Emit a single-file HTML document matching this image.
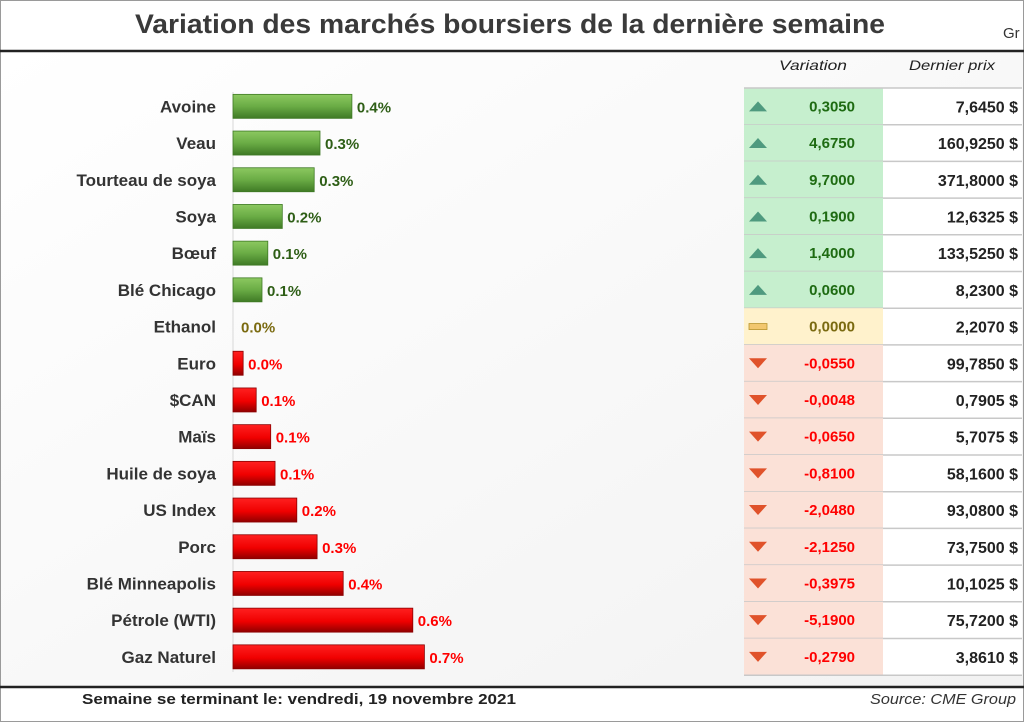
<!DOCTYPE html>
<html><head><meta charset="utf-8"><style>
html,body{margin:0;padding:0;background:#fff}
svg{display:block;font-family:"Liberation Sans",sans-serif}
</style></head><body>
<svg id="c" width="1024" height="722" viewBox="0 0 1024 722">
<defs>
<linearGradient id="gG" x1="0" y1="0" x2="0" y2="1"><stop offset="0" stop-color="#8cc860"/><stop offset="0.5" stop-color="#6aac45"/><stop offset="1" stop-color="#3f7a25"/></linearGradient>
<linearGradient id="gR" x1="0" y1="0" x2="0" y2="1"><stop offset="0" stop-color="#ff2020"/><stop offset="0.55" stop-color="#f00000"/><stop offset="1" stop-color="#900000"/></linearGradient>
<linearGradient id="bg" x1="0" y1="0" x2="1" y2="1"><stop offset="0" stop-color="#ffffff"/><stop offset="1" stop-color="#f2f2f2"/></linearGradient>
</defs>
<rect x="0" y="0" width="1024" height="722" fill="#fff"/>
<rect x="1" y="52" width="1022" height="634" fill="url(#bg)"/>
<rect x="0.5" y="0.5" width="1023" height="721" fill="none" stroke="#9a9a9a"/>
<text x="510" y="33" text-anchor="middle" font-size="27" font-weight="bold" fill="#3a3a3a" textLength="750" lengthAdjust="spacingAndGlyphs">Variation des marchés boursiers de la dernière semaine</text>
<text x="1003" y="38" font-size="15" fill="#333">Gr</text>
<line x1="0" y1="51" x2="1024" y2="51" stroke="#222" stroke-width="2.5"/>
<line x1="0" y1="687" x2="1024" y2="687" stroke="#222" stroke-width="2.5"/>
<text x="82" y="704" font-size="14.5" font-weight="bold" fill="#222" textLength="434" lengthAdjust="spacingAndGlyphs">Semaine se terminant le:  vendredi, 19 novembre 2021</text>
<text x="1016" y="704" text-anchor="end" font-size="14.5" font-style="italic" fill="#333" textLength="146" lengthAdjust="spacingAndGlyphs">Source: CME Group</text>
<text x="813" y="70" text-anchor="middle" font-size="14" font-style="italic" fill="#222" textLength="68" lengthAdjust="spacingAndGlyphs">Variation</text>
<text x="952" y="70" text-anchor="middle" font-size="14" font-style="italic" fill="#222" textLength="86" lengthAdjust="spacingAndGlyphs">Dernier prix</text>
<g id="bars"></g>
<g id="table"></g>
</svg>
<script>
const categories=["Avoine","Veau","Tourteau de soya","Soya","Bœuf","Blé Chicago","Ethanol","Euro","$CAN","Maïs","Huile de soya","US Index","Porc","Blé Minneapolis","Pétrole (WTI)","Gaz Naturel"];
const pctValues=[0.41,0.30,0.28,0.17,0.12,0.10,0.0,-0.035,-0.08,-0.13,-0.145,-0.22,-0.29,-0.38,-0.62,-0.66];
const variations=["0,3050","4,6750","9,7000","0,1900","1,4000","0,0600","0,0000","-0,0550","-0,0048","-0,0650","-0,8100","-2,0480","-2,1250","-0,3975","-5,1900","-0,2790"];
const prices=["7,6450 $","160,9250 $","371,8000 $","12,6325 $","133,5250 $","8,2300 $","2,2070 $","99,7850 $","0,7905 $","5,7075 $","58,1600 $","93,0800 $","73,7500 $","10,1025 $","75,7200 $","3,8610 $"];
const NS="http://www.w3.org/2000/svg";
const x0=233, pxPerPct=290, rowTop=88, rowH=36.7;
function xs(v){return Math.abs(v)*pxPerPct;}
function yc(i){return rowTop+rowH*(i+0.5);}
function mk(tag,attrs,parent){const e=document.createElementNS(NS,tag);for(const k in attrs)e.setAttribute(k,attrs[k]);parent.appendChild(e);return e;}
const bars=document.getElementById('bars'), table=document.getElementById('table');
const ax=mk('line',{x1:x0,y1:92,x2:x0,y2:672,stroke:'#d8d8d8','stroke-width':1},bars);


const pr=mk('rect',{x:883,y:rowTop,width:139,height:rowH*16,fill:'#fff'},table);


categories.forEach((c,i)=>{
  const y=yc(i), v=pctValues[i], w=xs(v);
  const lab=mk('text',{x:216,y:y+6,'text-anchor':'end','font-size':17,'font-weight':'bold',fill:'#333'},bars);
  lab.textContent=c;
  
  
  let col='#7a6a10';
  if(w>0.5){
    const pos=v>0;
    const r=mk('rect',{x:x0,y:y-12,width:w,height:24,fill:pos?'url(#gG)':'url(#gR)',stroke:pos?'#3f7a25':'#8a0000','stroke-width':0.8},bars);
    
    
    col=pos?'#2e5e16':'#ff0000';
  }
  const t=mk('text',{x:x0+Math.max(w,0)+(w>0.5?5:8),y:y+6,'font-size':15,'font-weight':'bold',fill:col},bars);
  t.textContent=Math.abs(v).toFixed(1)+'%';
  
  
  const sign=v>0?1:(v<0?-1:0);
  const bgc=sign>0?'#c6efce':(sign<0?'#fbe1d7':'#fff2cc');
  const cell=mk('rect',{x:744,y:rowTop+rowH*i,width:139,height:rowH,fill:bgc},table);
  
  
  const ln=mk('line',{x1:744,y1:rowTop+rowH*(i+1),x2:1022,y2:rowTop+rowH*(i+1),stroke:'#c8c8c8','stroke-width':1.5},table);
  
  
  let ic;
  if(sign>0) ic=mk('polygon',{points:`${749},${y+5} ${767},${y+5} ${758},${y-5}`,fill:'#4f9a7f'},table);
  else if(sign<0) ic=mk('polygon',{points:`${749},${y-5} ${767},${y-5} ${758},${y+5}`,fill:'#e0522a'},table);
  else ic=mk('rect',{x:749,y:y-3,width:18,height:6,fill:'#f2c76e',stroke:'#b8952e','stroke-width':0.8},table);
  
  
  const vt=mk('text',{x:855,y:y+5,'text-anchor':'end','font-size':15,'font-weight':'bold',fill:sign>0?'#1e6b12':(sign<0?'#ff0000':'#7a6a10')},table);
  vt.textContent=variations[i];
  
  
  const pt=mk('text',{x:1018,y:y+6,'text-anchor':'end','font-size':16,'font-weight':'bold',fill:'#222'},table);
  pt.textContent=prices[i];
  
  
});
const tl=mk('line',{x1:744,y1:rowTop,x2:1022,y2:rowTop,stroke:'#c8c8c8','stroke-width':1.5},table);


</script>
</body></html>
